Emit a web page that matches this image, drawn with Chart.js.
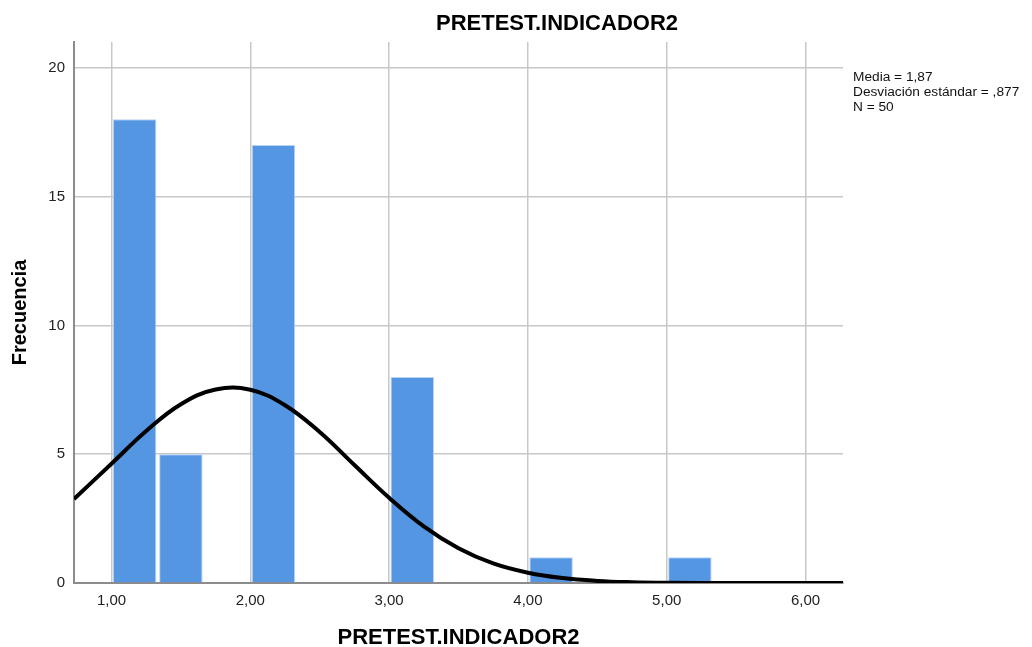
<!DOCTYPE html>
<html>
<head>
<meta charset="utf-8">
<script src="https://cdn.jsdelivr.net/npm/chart.js@4"></script>
<style>
  html, body { margin: 0; padding: 0; background: #fff; }
  #wrap { width: 1032px; height: 647px; position: relative; }
</style>
</head>
<body>
<div id="wrap"><canvas id="hist"></canvas></div>
<script>
// histogram bins (centre of each 1/3-wide bin) and counts
const binCenters = [1.167, 1.5, 2.167, 3.167, 4.167, 5.167];
const counts = [18, 5, 17, 8, 1, 1];

// normal curve
const curveX = [0.73, 1.0, 1.25, 1.5, 1.75, 2.0, 2.25, 2.5, 2.75, 3.0, 3.25, 3.5, 3.75, 4.0, 4.25, 4.5, 4.75, 5.0, 5.5, 6.0, 6.27];
const curveY = [3.26, 4.63, 5.90, 6.94, 7.51, 7.50, 6.90, 5.86, 4.58, 3.31, 2.20, 1.35, 0.76, 0.40, 0.19, 0.08, 0.03, 0.01, 0.0, 0.0, 0.0];

const xTicks = [1, 2, 3, 4, 5, 6];
const yTicks = [0, 5, 10, 15, 20];

const statLines = ['Media = 1,87', 'Desviación estándar = ,877', 'N = 50'];
const mainTitle = 'PRETEST.INDICADOR2';

const FONT = '"Liberation Sans", Arial, sans-serif';

// extra texts: main title and stats block
const textPlugin = {
  id: 'texts',
  afterDraw(chart) {
    const ctx = chart.ctx;
    ctx.save();
    ctx.fillStyle = '#000';
    ctx.font = 'bold 22px ' + FONT;
    ctx.textAlign = 'center';
    ctx.textBaseline = 'middle';
    ctx.fillText(mainTitle, 557, 24);
    ctx.font = '13.7px ' + FONT;
    ctx.textAlign = 'left';
    ctx.fillStyle = '#111';
    statLines.forEach((s, i) => ctx.fillText(s, 853, 77 + i * 15));
    ctx.restore();
  }
};

new Chart(document.getElementById('hist'), {
  type: 'bar',
  data: {
    datasets: [
      {
        type: 'line',
        data: curveX.map((x, i) => ({ x: x, y: curveY[i] })),
        borderColor: '#000',
        borderWidth: 4,
        pointRadius: 0,
        tension: 0.4,
        fill: false,
        order: 1
      },
      {
        type: 'bar',
        data: binCenters.map((x, i) => ({ x: x, y: counts[i] })),
        backgroundColor: '#5596e3',
        borderColor: '#b9d2f2',
        borderWidth: 1,
        categoryPercentage: 1,
        barPercentage: 0.94,
        order: 2
      }
    ]
  },
  options: {
    responsive: true,
    maintainAspectRatio: false,
    animation: false,
    layout: { padding: { top: 42, right: 189, left: 0, bottom: 0 } },
    plugins: {
      legend: { display: false },
      tooltip: { enabled: false },
      title: { display: false }
    },
    scales: {
      x: {
        type: 'linear',
        offset: false,
        min: 0.73,
        max: 6.27,
        afterBuildTicks: (s) => { s.ticks = xTicks.map(v => ({ value: v })); },
        afterFit: (s) => { s.height = 64; },
        grid: { color: '#c8c8c8', lineWidth: 1.5, drawTicks: false, offset: false },
        border: { color: '#8c8c8c', width: 2 },
        ticks: {
          padding: 9,
          color: '#222',
          font: { family: FONT, size: 15 },
          callback: (v) => v.toFixed(2).replace('.', ',')
        },
        title: {
          display: true,
          text: mainTitle,
          color: '#000',
          font: { family: FONT, size: 22, weight: 'bold' },
          padding: { top: 0, bottom: -4 }
        }
      },
      y: {
        min: 0,
        max: 21,
        afterBuildTicks: (s) => { s.ticks = yTicks.map(v => ({ value: v })); },
        afterFit: (s) => { s.width = 74; },
        grid: { color: '#c8c8c8', lineWidth: 1.5, drawTicks: false },
        border: { color: '#8c8c8c', width: 2 },
        ticks: {
          padding: 9,
          color: '#222',
          font: { family: FONT, size: 15 }
        },
        title: {
          display: true,
          text: 'Frecuencia',
          color: '#000',
          font: { family: FONT, size: 20, weight: 'bold' },
          padding: { top: 8, bottom: 0 }
        }
      }
    }
  },
  plugins: [textPlugin]
});
</script>
</body>
</html>
